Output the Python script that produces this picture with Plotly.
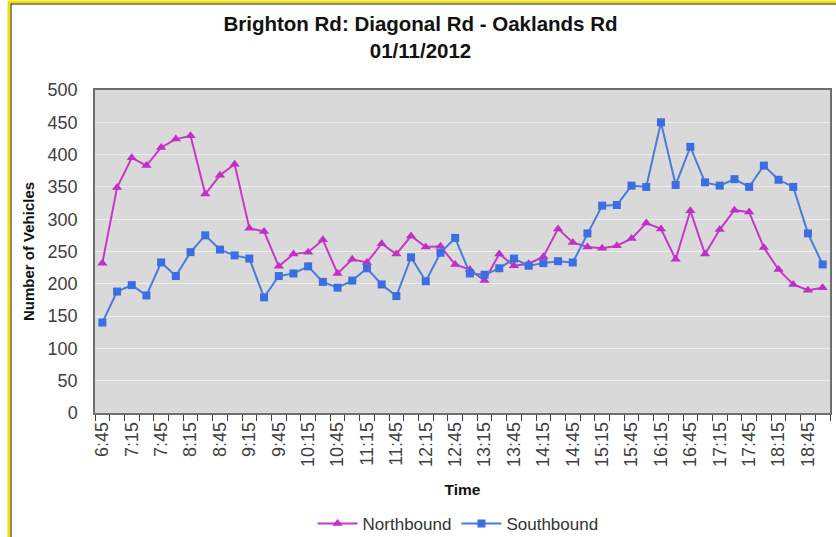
import plotly.graph_objects as go

times = ["6:45", "7:00", "7:15", "7:30", "7:45", "8:00", "8:15", "8:30", "8:45", "9:00",
         "9:15", "9:30", "9:45", "10:00", "10:15", "10:30", "10:45", "11:00", "11:15", "11:30",
         "11:45", "12:00", "12:15", "12:30", "12:45", "13:00", "13:15", "13:30", "13:45", "14:00",
         "14:15", "14:30", "14:45", "15:00", "15:15", "15:30", "15:45", "16:00", "16:15", "16:30",
         "16:45", "17:00", "17:15", "17:30", "17:45", "18:00", "18:15", "18:30", "18:45", "19:00"]

label_times = ["6:45", "7:15", "7:45", "8:15", "8:45", "9:15", "9:45", "10:15", "10:45",
               "11:15", "11:45", "12:15", "12:45", "13:15", "13:45", "14:15", "14:45",
               "15:15", "15:45", "16:15", "16:45", "17:15", "17:45", "18:15", "18:45"]

northbound = [232, 349, 395, 383, 411, 424, 429, 339, 368, 385,
              286, 281, 227, 246, 249, 268, 216, 238, 233, 262,
              246, 274, 257, 258, 230, 222, 205, 246, 228, 231,
              242, 285, 264, 257, 255, 259, 270, 294, 285, 238,
              313, 246, 284, 314, 311, 256, 222, 199, 190, 194]

southbound = [140, 188, 198, 182, 233, 212, 249, 275, 253, 244,
              239, 179, 212, 216, 227, 203, 194, 205, 224, 199,
              181, 241, 204, 248, 271, 216, 214, 224, 239, 228,
              232, 235, 233, 278, 321, 322, 352, 350, 450, 353,
              412, 357, 352, 362, 350, 383, 361, 350, 278, 230]

y_ticks = [0, 50, 100, 150, 200, 250, 300, 350, 400, 450, 500]

ticktext = [t if t in label_times else "" for t in times]

FONT = "Liberation Sans, Arial, sans-serif"

fig = go.Figure()
fig.add_trace(go.Scatter(
    x=times, y=northbound, name="Northbound", mode="lines+markers",
    line=dict(color="#C837C8", width=2),
    marker=dict(symbol="triangle-up", size=9, color="#C02FC6"),
))
fig.add_trace(go.Scatter(
    x=times, y=southbound, name="Southbound", mode="lines+markers",
    line=dict(color="#4B7BDB", width=2),
    marker=dict(symbol="square", size=8, color="#3A6EE2"),
))

# outer frame (yellow + dark line) in paper coordinates
L, R, T, B = 95, 830, 90, 413
W, H = R - L, B - T
def px(x):
    return (x - L) / W
def py(y):
    return (B - y) / H

shapes = [
    dict(type="line", xref="paper", yref="paper", x0=px(9), x1=px(9), y0=py(2), y1=py(540),
         line=dict(color="#F2E000", width=3)),
    dict(type="line", xref="paper", yref="paper", x0=px(11), x1=px(11), y0=py(3), y1=py(540),
         line=dict(color="#222222", width=1)),
    dict(type="line", xref="paper", yref="paper", x0=px(8), x1=px(840), y0=py(2), y1=py(2),
         line=dict(color="#F2E000", width=3)),
    dict(type="line", xref="paper", yref="paper", x0=px(11), x1=px(840), y0=py(4), y1=py(4),
         line=dict(color="#222222", width=1)),
]

fig.update_layout(
    width=836, height=537,
    margin=dict(l=L, r=836 - R, t=T, b=537 - B, autoexpand=False),
    paper_bgcolor="white",
    plot_bgcolor="#D9D9D9",
    font=dict(family=FONT, color="#404040"),
    title=dict(
        text="<b>Brighton Rd: Diagonal Rd - Oaklands Rd<br>01/11/2012</b>",
        x=0.503, xref="container", xanchor="center",
        y=1 - 31 / 537, yref="container", yanchor="top",
        font=dict(family=FONT, size=20.5, color="#111111"),
    ),
    xaxis=dict(
        type="category", automargin=False,
        tickmode="array", tickvals=times, ticktext=ticktext,
        tickson="boundaries",
        ticks="outside", ticklen=6, tickcolor="#404040", tickwidth=1,
        tickangle=-90,
        tickfont=dict(size=18, color="#404040"),
        showgrid=False,
        showline=True, linecolor="#6E6E6E", linewidth=1.5, mirror=True,
        title=dict(text="<b>Time</b>", font=dict(size=15.5, color="#111111"), standoff=18),
        range=[-0.5, len(times) - 0.5],
    ),
    yaxis=dict(
        range=[0, 500], automargin=False,
        tickmode="array", tickvals=y_ticks,
        ticks="outside", ticklen=12, tickcolor="rgba(0,0,0,0)",
        tickfont=dict(size=18, color="#404040"),
        showgrid=True, gridcolor="#EDEDED", gridwidth=1,
        zeroline=False,
        showline=True, linecolor="#6E6E6E", linewidth=1.5, mirror=True,
        title=dict(text="<b>Number of Vehicles</b>", font=dict(size=15, color="#111111"), standoff=9),
    ),
    legend=dict(
        orientation="h", x=0.494, xanchor="center",
        yref="container", y=(537 - 524) / 537, yanchor="middle",
        font=dict(size=17, color="#333333"), bgcolor="rgba(0,0,0,0)",
        itemwidth=40, tracegroupgap=0,
    ),
    shapes=shapes,
)

fig.write_html("out.html", config={"displayModeBar": False},
               post_script="document.body.style.margin='0';document.body.style.overflow='hidden';")
